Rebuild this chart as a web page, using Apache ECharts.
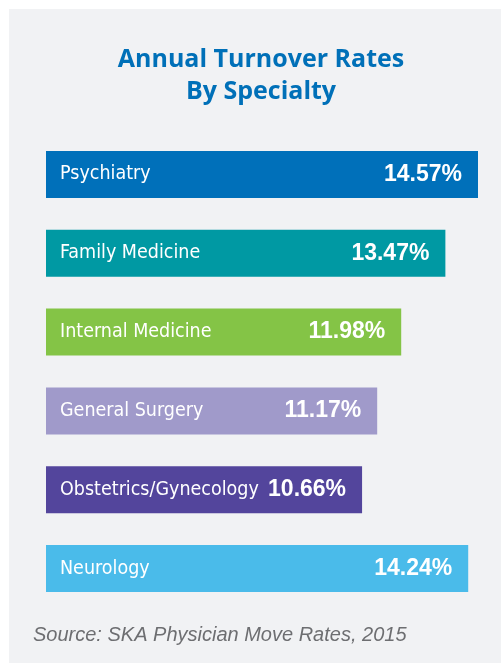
<!DOCTYPE html>
<html>
<head>
<meta charset="utf-8">
<script src="https://cdn.jsdelivr.net/npm/echarts@6/dist/echarts.min.js"></script>
<style>
html,body{margin:0;padding:0;background:#ffffff;}
#chart{width:501px;height:663px;}
</style>
</head>
<body>
<div id="chart"></div>
<script>
const categories = ['Psychiatry', 'Family Medicine', 'Internal Medicine', 'General Surgery', 'Obstetrics/Gynecology', 'Neurology'];
const turnoverRates = [14.57, 13.47, 11.98, 11.17, 10.66, 14.24];
const barColors = ['#0070ba', '#0099a3', '#84c446', '#a09aca', '#53459c', '#4abbea'];
const titleText = 'Annual Turnover Rates\nBy Specialty';
const sourceText = 'Source: SKA Physician Move Rates, 2015';

const chart = echarts.init(document.getElementById('chart'), null, {renderer: 'canvas'});
const nameFont = '"DejaVu Sans Condensed", "Liberation Sans", sans-serif';

const option = {
  backgroundColor: '#ffffff',
  animation: false,
  graphic: [
    {type: 'rect', left: 9, top: 9, z: -10, shape: {width: 492, height: 654}, style: {fill: '#f1f2f4'}},
    {type: 'text', left: 33, top: 625, z: 10, style: {text: sourceText, fill: '#6d6e71', font: 'italic 20px "Liberation Sans", Arial, sans-serif'}}
  ],
  title: {
    text: titleText,
    left: 256,
    top: 39,
    textAlign: 'center',
    textStyle: {color: '#0070b8', fontSize: 25, fontWeight: 'bold', fontFamily: '"Open Sans", sans-serif', lineHeight: 32}
  },
  grid: {left: 46, top: 135, width: 444.75, height: 473, containLabel: false},
  xAxis: {type: 'value', min: 0, max: 15, show: false},
  yAxis: {type: 'category', data: categories, inverse: true, show: false},
  series: [
    {
      type: 'bar',
      barWidth: 47,
      data: turnoverRates.map((v, i) => ({value: v, itemStyle: {color: barColors[i]}})),
      label: {
        show: true, position: 'insideLeft', distance: 14,
        formatter: p => p.name,
        color: '#ffffff', fontSize: 19.5, fontFamily: nameFont
      },
      z: 2
    },
    {
      type: 'bar',
      barWidth: 47,
      barGap: '-100%',
      data: turnoverRates,
      itemStyle: {color: 'rgba(0,0,0,0)'},
      label: {
        show: true, position: 'insideRight', distance: 16,
        formatter: p => p.value.toFixed(2) + '%',
        color: '#ffffff', fontSize: 23, fontWeight: 'bold', fontFamily: '"Liberation Sans", Arial, sans-serif'
      },
      z: 3
    }
  ]
};
chart.setOption(option);
</script>
</body>
</html>
